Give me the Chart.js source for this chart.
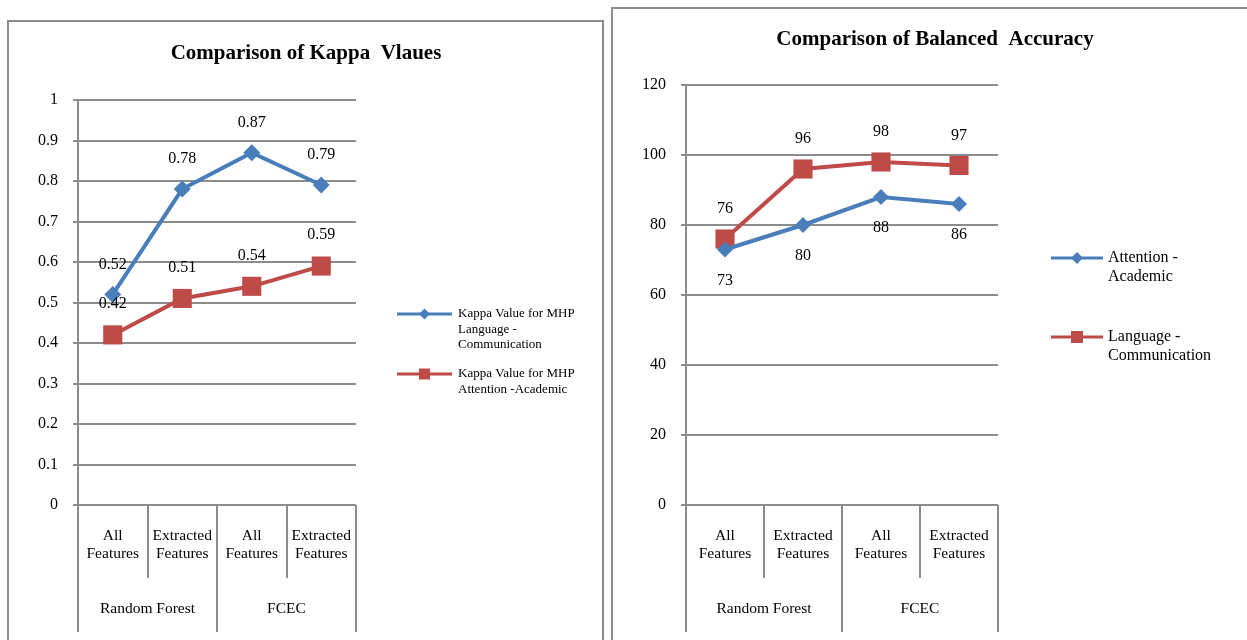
<!DOCTYPE html>
<html><head><meta charset="utf-8">
<script src="https://cdn.jsdelivr.net/npm/chart.js@4/dist/chart.umd.min.js"></script>
<style>
html,body{margin:0;padding:0;width:1247px;height:640px;overflow:hidden;background:#fff;}
.box{position:absolute;border:2px solid #8c8c8c;box-sizing:border-box;}
canvas{position:absolute;left:0;top:0;}
</style></head><body>
<div class="box" style="left:7px;top:20px;width:597px;height:700px"></div>
<div class="box" style="left:611px;top:7px;width:700px;height:700px"></div>
<canvas id="c1" width="1247" height="640"></canvas>
<canvas id="c2" width="1247" height="640"></canvas>
<script>
// ---- data ----
const subCategories = ['All Features', 'Extracted Features', 'All Features', 'Extracted Features'];
const groups = ['Random Forest', 'FCEC'];
const kappaLanguage = [0.52, 0.78, 0.87, 0.79];
const kappaAttention = [0.42, 0.51, 0.54, 0.59];
const accAttention = [73, 80, 88, 86];
const accLanguage = [76, 96, 98, 97];
const kappaLegend = [['Kappa Value for MHP', 'Language -', 'Communication'], ['Kappa Value for MHP', 'Attention -Academic']];
const accLegend = [['Attention -', 'Academic'], ['Language -', 'Communication']];

const BLUE = '#4A7EBB', RED = '#BE4B48', GRID = '#8c8c8c';
const FONT = '"Liberation Serif", "Times New Roman", serif';

function drawMarker(ctx, style, x, y, r, color) {
  ctx.fillStyle = color;
  ctx.beginPath();
  if (style === 'rectRot') {
    ctx.moveTo(x - r, y); ctx.lineTo(x, y - r); ctx.lineTo(x + r, y); ctx.lineTo(x, y + r);
  } else {
    ctx.rect(x - r, y - r, 2 * r, 2 * r);
  }
  ctx.closePath(); ctx.fill();
}

function makeChart(id, cfg) {
  const plugin = {
    id: 'custom' + id,
    afterDatasetsDraw(chart) {
      const ctx = chart.ctx;
      ctx.save();
      ctx.font = '16px ' + FONT;
      ctx.fillStyle = '#000';
      ctx.textAlign = 'center';
      ctx.textBaseline = 'middle';
      chart.data.datasets.forEach((ds, di) => {
        const meta = chart.getDatasetMeta(di);
        meta.data.forEach((pt, i) => {
          ctx.fillText(cfg.labelFmt(ds.data[i]), pt.x, pt.y + cfg.labelOffsets[di]);
        });
      });
      ctx.restore();
    },
    afterDraw(chart) {
      const ctx = chart.ctx;
      const ca = chart.chartArea;
      const xs = chart.scales.x;
      ctx.save();
      // title
      ctx.font = 'bold 21px ' + FONT;
      ctx.fillStyle = '#000';
      ctx.textAlign = 'center';
      ctx.textBaseline = 'middle';
      ctx.fillText(cfg.title, cfg.titleX, cfg.titleY);
      // multi-level category axis
      const n = chart.data.labels.length;
      const w = xs.getPixelForValue(1) - xs.getPixelForValue(0);
      const edge = i => xs.getPixelForValue(0) - w / 2 + i * w;
      ctx.strokeStyle = GRID;
      ctx.lineWidth = 2;
      for (let i = 0; i <= n; i++) {
        const x = Math.round(edge(i));
        ctx.beginPath();
        ctx.moveTo(x, ca.bottom);
        ctx.lineTo(x, ca.bottom + (i % 2 === 0 ? 127 : 73));
        ctx.stroke();
      }
      ctx.font = '15.5px ' + FONT;
      ctx.fillStyle = '#000';
      chart.data.labels.forEach((lab, i) => {
        const cx = xs.getPixelForValue(i);
        lab.split(' ').forEach((ln, k) => ctx.fillText(ln, cx, ca.bottom + 31 + k * 18));
      });
      groups.forEach((g, gi) => {
        const cx = (edge(gi * 2) + edge(gi * 2 + 2)) / 2;
        ctx.fillText(g, cx, ca.bottom + 104);
      });
      // legend
      const L = cfg.legend;
      ctx.font = L.font + 'px ' + FONT;
      ctx.textAlign = 'left';
      chart.data.datasets.forEach((ds, di) => {
        const y = L.ys[di];
        ctx.strokeStyle = ds.borderColor;
        ctx.lineWidth = 3;
        ctx.beginPath(); ctx.moveTo(L.x1, y); ctx.lineTo(L.x2, y); ctx.stroke();
        drawMarker(ctx, ds.pointStyle, (L.x1 + L.x2) / 2, y, ds.pointStyle === 'rect' ? L.sq : L.dm, ds.borderColor);
        ctx.fillStyle = '#000';
        cfg.legendText[di].forEach((t, k) => ctx.fillText(t, L.tx, y + k * L.lh));
      });
      ctx.restore();
    }
  };
  return new Chart(document.getElementById(id), {
    type: 'line',
    data: {
      labels: subCategories,
      datasets: cfg.series.map(s => ({
        label: s.label, data: s.data, borderColor: s.color, backgroundColor: s.color,
        borderWidth: 4, pointStyle: s.style, pointRadius: s.style === 'rect' ? cfg.sqR : cfg.dmR,
        pointBorderWidth: 0, pointBackgroundColor: s.color, tension: 0, clip: false
      }))
    },
    options: {
      responsive: false, animation: false, devicePixelRatio: 1,
      layout: { padding: cfg.padding },
      plugins: { legend: { display: false }, title: { display: false }, tooltip: { enabled: false } },
      scales: {
        x: { type: 'category', offset: true, display: false },
        y: {
          min: cfg.yMin, max: cfg.yMax,
          ticks: { stepSize: cfg.step, color: '#000', padding: 15, font: { family: FONT, size: 16 },
                   callback: v => cfg.tickFmt(v) },
          grid: { color: GRID, lineWidth: 2, tickLength: 5, drawOnChartArea: true },
          border: { display: true, color: GRID, width: 2 },
          afterFit(s) { s.width = 60; }
        }
      }
    },
    plugins: [plugin]
  });
}

makeChart('c1', {
  title: 'Comparison of Kappa  Vlaues', titleX: 306, titleY: 54,
  series: [
    { label: kappaLegend[0].join(' '), data: kappaLanguage, color: BLUE, style: 'rectRot' },
    { label: kappaLegend[1].join(' '), data: kappaAttention, color: RED, style: 'rect' }
  ],
  sqR: 13.5, dmR: 8.5,
  labelOffsets: [-30, -31],
  labelFmt: v => String(v),
  tickFmt: v => String(+v.toFixed(1)),
  yMin: 0, yMax: 1, step: 0.1,
  padding: { left: 18, top: 100, right: 1247 - 356, bottom: 640 - 505 },
  legend: { x1: 397, x2: 452, tx: 458, ys: [314, 374], lh: 15.5, font: 13, sq: 5.5, dm: 5.5 },
  legendText: kappaLegend
});

makeChart('c2', {
  title: 'Comparison of Balanced  Accuracy', titleX: 935, titleY: 40,
  series: [
    { label: accLegend[0].join(' '), data: accAttention, color: BLUE, style: 'rectRot' },
    { label: accLegend[1].join(' '), data: accLanguage, color: RED, style: 'rect' }
  ],
  sqR: 13.5, dmR: 8,
  labelOffsets: [31, -30],
  labelFmt: v => String(v),
  tickFmt: v => String(v),
  yMin: 0, yMax: 120, step: 20,
  padding: { left: 626, top: 85, right: 1247 - 998, bottom: 640 - 505 },
  legend: { x1: 1051, x2: 1103, tx: 1108, ys: [258, 337], lh: 19, font: 16, sq: 6, dm: 6 },
  legendText: accLegend
});
</script>
</body></html>
